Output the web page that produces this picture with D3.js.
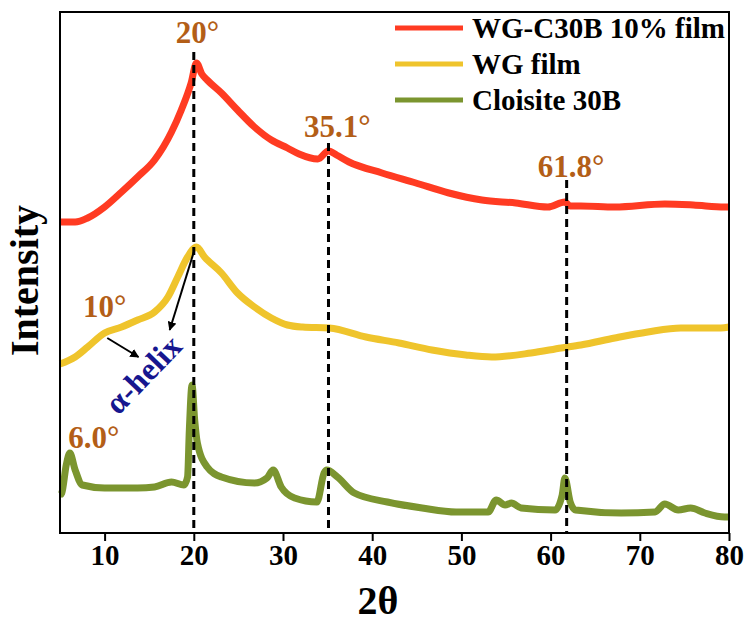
<!DOCTYPE html>
<html>
<head>
<meta charset="utf-8">
<script src="https://cdn.jsdelivr.net/npm/d3@7"></script>
<style>
  body { margin: 0; background: #fff; }
  text { font-family: "Liberation Serif", "Times New Roman", serif; font-weight: bold; }
</style>
</head>
<body>
<svg id="chart" width="747" height="626"></svg>
<script>
// XRD patterns, intensity in arbitrary units (curves are offset as in the figure)
var twoTheta_film10 = [5, 6.7, 8.1, 10, 11.9, 13.7, 15.6, 17.5, 18.6, 19.7, 20.3, 20.9, 21.5, 23.1, 24.9, 26.8, 28.7, 30.5, 31.8, 33.9, 35.1, 36, 37.4, 41.1, 44.9, 48.6, 52.3, 56.1, 59.7, 61.6, 62.2, 63.4, 67.2, 72.8, 76, 79.5, 80]
var int_film10 = [298, 298, 302, 313, 328, 343, 360, 388, 410, 437, 457, 446, 440, 427, 410, 393, 380, 372, 366, 361, 369, 365, 358, 347, 337, 327, 320, 317, 313, 318, 314, 314, 313, 316, 315, 313, 313]

var twoTheta_wg = [5, 6.7, 8.1, 10, 11.9, 13.7, 15.6, 17.1, 18.2, 19.3, 20.3, 21.2, 23.1, 24.9, 26.8, 28.7, 30.5, 32.2, 35.2, 39.3, 43, 46.7, 50.5, 53.4, 57.8, 61.2, 63.4, 67.2, 70.9, 74.6, 79.1, 80]
var int_wg = [156, 163, 173, 187, 193, 200, 208, 223, 243, 263, 273, 263, 247, 227, 213, 202, 195, 193, 192, 183, 177, 170, 165, 163, 167, 172, 175, 182, 188, 192, 192, 193]

var twoTheta_c30b = [5, 5.2, 5.7, 6.1, 6.7, 7.5, 10, 13.7, 15.6, 17.5, 18.9, 19.3, 19.5, 19.8, 20.1, 20.4, 21.5, 23.1, 26.8, 28.2, 28.9, 29.8, 31.3, 33.8, 34.6, 34.9, 36.1, 38, 41.7, 45.6, 49.4, 53, 53.9, 54.9, 55.6, 56.7, 60.5, 61.3, 61.6, 62.2, 62.8, 67.9, 71.7, 72.8, 74.3, 75.7, 77.3, 79.5, 80]
var int_c30b = [25, 27, 55, 67, 50, 35, 32, 32, 33, 38, 35, 43, 90, 135, 100, 77, 53, 43, 37, 42, 50, 33, 22, 18, 47, 50, 43, 27, 18, 12, 8, 8, 20, 15, 17, 12, 10, 25, 42, 18, 10, 7, 8, 16, 10, 12, 7, 3, 3]

var seriesNames = ["WG-C30B 10% film", "WG film", "Cloisite 30B"]
var seriesColors = ["#ff3b22", "#efc42c", "#7b952f"]

var xTicks = [10, 20, 30, 40, 50, 60, 70, 80]

// dashed reference lines: position and top of the line (a.u.)
var peakPos = [20, 35.1, 61.8]
var peakTop = [468, 377, 340]

// peak labels: text, anchor 2θ, anchor intensity (baseline)
var peakLabels = ["20°", "35.1°", "61.8°", "10°", "6.0°"]
var labelTheta = [20.4, 36.1, 62.3, 10, 8.8]
var labelInt = [477, 383, 343, 203, 72]

var W = 747, H = 626
var mLeft = 60, mRight = 729, mTop = 12, mBottom = 533

var svg = d3.select('#chart')

var x = d3.scaleLinear().domain([5, 80]).range([mLeft, mRight])
var y = d3.scaleLinear().domain([-13, 508]).range([mBottom, mTop])

var series = [
  {name: seriesNames[0], color: seriesColors[0], xs: twoTheta_film10, ys: int_film10},
  {name: seriesNames[1], color: seriesColors[1], xs: twoTheta_wg, ys: int_wg},
  {name: seriesNames[2], color: seriesColors[2], xs: twoTheta_c30b, ys: int_c30b}
]

var line = d3.line()
  .curve(d3.curveMonotoneX)
  .x(d => x(d[0]))
  .y(d => y(d[1]))

svg.append('defs').append('marker')
  .attr('id', 'arrow')
  .attr('viewBox', '0 0 10 10')
  .attr('refX', 9).attr('refY', 5)
  .attr('markerWidth', 9).attr('markerHeight', 9)
  .attr('markerUnits', 'userSpaceOnUse')
  .attr('orient', 'auto')
  .append('path').attr('d', 'M0,0L10,5L0,10Z').attr('fill', '#000')

// curves
svg.append('g').selectAll('path')
  .data(series)
  .enter().append('path')
  .attr('d', s => line(d3.zip(s.xs, s.ys)))
  .attr('fill', 'none')
  .attr('stroke', s => s.color)
  .attr('stroke-width', 7)
  .attr('stroke-linejoin', 'round')

// dashed lines
svg.append('g').selectAll('line')
  .data(peakPos)
  .enter().append('line')
  .attr('x1', d => x(d)).attr('x2', d => x(d))
  .attr('y1', (d, i) => y(peakTop[i]))
  .attr('y2', mBottom)
  .attr('stroke', '#000')
  .attr('stroke-width', 3)
  .attr('stroke-dasharray', '8,5')

// peak labels
svg.append('g').selectAll('text')
  .data(peakLabels)
  .enter().append('text')
  .attr('x', (d, i) => x(labelTheta[i]))
  .attr('y', (d, i) => y(labelInt[i]))
  .attr('text-anchor', 'middle')
  .attr('font-size', 31)
  .attr('fill', '#b35e17')
  .text(d => d)

// alpha-helix arrows
var arrows = [[[20.0, 268], [17.3, 190]], [[10.3, 182], [13.8, 163]]]
svg.append('g').selectAll('line')
  .data(arrows)
  .enter().append('line')
  .attr('x1', d => x(d[0][0])).attr('y1', d => y(d[0][1]))
  .attr('x2', d => x(d[1][0])).attr('y2', d => y(d[1][1]))
  .attr('stroke', '#000')
  .attr('stroke-width', 2)
  .attr('marker-end', 'url(#arrow)')

svg.append('text')
  .attr('transform', 'translate(' + x(15.2) + ',' + y(138) + ') rotate(-46)')
  .attr('text-anchor', 'middle')
  .attr('font-size', 32)
  .attr('fill', '#16168f')
  .text('α-helix')

// frame
svg.append('rect')
  .attr('x', mLeft).attr('y', mTop)
  .attr('width', mRight - mLeft).attr('height', mBottom - mTop)
  .attr('fill', 'none')
  .attr('stroke', '#000')
  .attr('stroke-width', 2)

// x axis
var xAxis = svg.append('g')
  .attr('transform', 'translate(0,' + mBottom + ')')
  .call(d3.axisBottom(x).tickValues(xTicks).tickSize(8).tickSizeOuter(0).tickPadding(3))
xAxis.select('.domain').remove()
xAxis.selectAll('line').attr('stroke-width', 2)
xAxis.selectAll('text')
  .attr('font-size', 29)
  .attr('font-family', '"Liberation Serif", "Times New Roman", serif')
  .attr('font-weight', 'bold')
  .attr('fill', '#000')

svg.append('text')
  .attr('x', 378)
  .attr('y', 614)
  .attr('text-anchor', 'middle')
  .attr('font-size', 40)
  .text('2θ')

svg.append('text')
  .attr('transform', 'translate(38,' + ((mTop + mBottom) / 2 + 8) + ') rotate(-90)')
  .attr('text-anchor', 'middle')
  .attr('font-size', 40)
  .text('Intensity')

// legend
var legend = svg.append('g').selectAll('g')
  .data(series)
  .enter().append('g')
  .attr('transform', (d, i) => 'translate(395,' + (28 + i * 36) + ')')
legend.append('line')
  .attr('x1', 0).attr('x2', 68)
  .attr('stroke', d => d.color)
  .attr('stroke-width', 5)
legend.append('text')
  .attr('x', 77).attr('y', 10)
  .attr('font-size', 29)
  .text(d => d.name)
</script>
</body>
</html>
